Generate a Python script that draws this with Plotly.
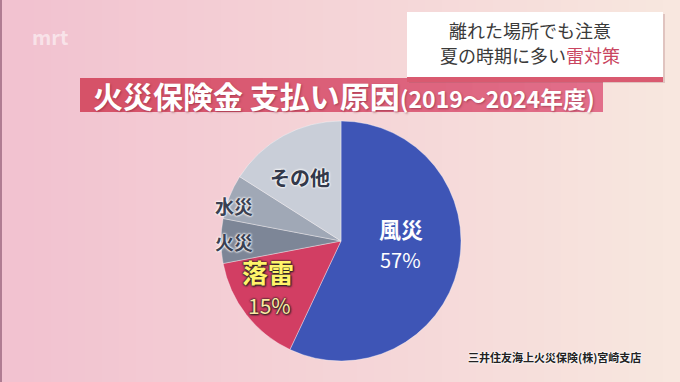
import plotly.graph_objects as go

# ---- data ----
categories = ["風災", "落雷", "火災", "水災", "その他"]
shares = [57, 15, 6, 6, 16]
slice_colors = ["#3E55B6", "#D23E63", "#7D8697", "#A0A8B6", "#C9CED8"]

title_main = "火災保険金 支払い原因"
title_period = "(2019～2024年度)"
headline_1 = "離れた場所でも注意"
headline_2a = "夏の時期に多い"
headline_2b = "雷対策"
source_text = "三井住友海上火災保険(株)宮崎支店"

W, H = 680, 382
FONT = "Noto Sans CJK JP"

fig = go.Figure()

# pie
fig.add_trace(go.Pie(
    labels=categories, values=shares, sort=False, direction="clockwise",
    rotation=0, textinfo="none", hoverinfo="label+percent",
    marker=dict(colors=slice_colors, line=dict(color="rgba(255,255,255,0.45)", width=0.8)),
    domain=dict(x=[221 / W, 461 / W], y=[(H - 361) / H, (H - 121) / H]),
    showlegend=False,
))

shapes = []
# background gradient (pink left -> peach right)
n = 40
c0 = (242, 194, 208)
c1 = (248, 231, 223)
for i in range(n):
    t = i / (n - 1)
    r = int(c0[0] + (c1[0] - c0[0]) * t)
    g = int(c0[1] + (c1[1] - c0[1]) * t)
    b = int(c0[2] + (c1[2] - c0[2]) * t)
    shapes.append(dict(type="rect", xref="paper", yref="paper",
                       x0=i / n, x1=(i + 1) / n + 0.002, y0=0, y1=1,
                       fillcolor=f"rgb({r},{g},{b})", line=dict(width=0), layer="below"))
# left border
shapes.append(dict(type="rect", xref="paper", yref="paper", x0=0, x1=2 / W, y0=0, y1=1,
                   fillcolor="#B07C92", line=dict(width=0), layer="below"))

# title banner (gradient)
bx0, bx1, by0, by1 = 80, 603, 78, 112
m = 20
for i in range(m):
    t = i / (m - 1)
    a = (214, 82, 104)
    b = (226, 110, 138)
    col = tuple(int(a[k] + (b[k] - a[k]) * t) for k in range(3))
    x0 = bx0 + (bx1 - bx0) * i / m
    x1 = bx0 + (bx1 - bx0) * (i + 1) / m + 0.8
    shapes.append(dict(type="rect", xref="paper", yref="paper",
                       x0=x0 / W, x1=min(x1, bx1) / W, y0=(H - by1) / H, y1=(H - by0) / H,
                       fillcolor=f"rgb{col}", line=dict(width=0), layer="above"))

# headline box
shapes.append(dict(type="rect", xref="paper", yref="paper",
                   x0=409 / W, x1=665 / W, y0=(H - 83) / H, y1=(H - 14) / H,
                   fillcolor="rgba(150,90,100,0.25)", line=dict(width=0), layer="above"))
shapes.append(dict(type="rect", xref="paper", yref="paper",
                   x0=407 / W, x1=663 / W, y0=(H - 80) / H, y1=(H - 12) / H,
                   fillcolor="#FFFFFF", line=dict(width=0), layer="above"))
shapes.append(dict(type="rect", xref="paper", yref="paper",
                   x0=407 / W, x1=663 / W, y0=(H - 82) / H, y1=(H - 77) / H,
                   fillcolor="#D95A70", line=dict(width=0), layer="above"))

annotations = []


def ann(text, x, y, size, color, shadow="none", weight="normal", xanchor="center"):
    annotations.append(dict(text=text, x=x / W, y=(H - y) / H, xref="paper", yref="paper",
                            showarrow=False, xanchor=xanchor, yanchor="middle",
                            font=dict(family=FONT, size=size, color=color, weight=weight,
                                      shadow=shadow)))


# logo
ann("mrt", 50, 37, 20, "rgba(255,255,255,0.55)", weight="bold")

# title
annotations.append(dict(
    text=f"<span style='font-size:30px'>{title_main}</span><span style='font-size:23px'>{title_period}</span>",
    x=344 / W, y=(H - 95) / H, xref="paper", yref="paper", showarrow=False,
    xanchor="center", yanchor="middle",
    font=dict(family=FONT, size=30, color="#FFFFFF", weight="bold",
              shadow="1px 1px 2px rgba(120,30,50,0.5)")))

# headline
ann(headline_1, 530, 30, 18, "#3A3A3A")
annotations.append(dict(
    text=f"{headline_2a}<span style='color:#C94560'>{headline_2b}</span>",
    x=530 / W, y=(H - 55) / H, xref="paper", yref="paper", showarrow=False,
    xanchor="center", yanchor="middle",
    font=dict(family=FONT, size=18, color="#3A3A3A")))

# slice labels
white_glow = "0 0 2px #fff, 0 0 2px #fff, 0 0 3px #fff"
dark_glow = "0 0 2px #222, 0 0 2px #222, 1px 1px 2px #222"
ann(categories[0], 401, 228, 22, "#FFFFFF", weight="bold")
ann(f"{shares[0]}%", 400, 259, 20, "#FFFFFF")
ann(categories[1], 268, 271, 26, "#FFF46A", shadow=dark_glow, weight="bold")
ann(f"{shares[1]}%", 269, 305, 21, "#FBE8A4", shadow=dark_glow)
ann(categories[2], 234, 241, 19, "#3A4152", shadow=white_glow, weight="bold")
ann(categories[3], 234, 206, 19, "#3A4152", shadow=white_glow, weight="bold")
ann(categories[4], 300, 177, 20, "#33394A", shadow=white_glow, weight="bold")

# source
ann(source_text, 554, 357, 11, "#222222", shadow=white_glow, weight="bold")

fig.update_layout(
    width=W, height=H, margin=dict(l=0, r=0, t=0, b=0),
    paper_bgcolor="#F5D8D8", plot_bgcolor="rgba(0,0,0,0)",
    shapes=shapes, annotations=annotations,
)

fig.write_html("out.html", config=dict(displayModeBar=False),
               post_script="document.body.style.margin='0';document.body.style.overflow='hidden';")
